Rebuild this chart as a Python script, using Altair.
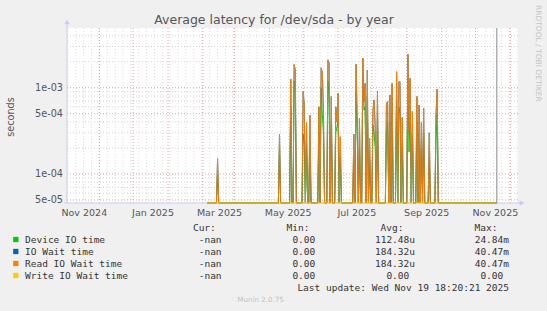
import altair as alt
import pandas as pd

# ---------------- data ----------------
spike_dates = [
    "2025-02-14", "2025-04-10", "2025-04-20", "2025-04-23", "2025-04-24",
    "2025-05-01", "2025-05-02", "2025-05-04", "2025-05-07", "2025-05-15",
    "2025-05-17", "2025-05-18", "2025-05-19", "2025-05-23", "2025-05-24",
    "2025-05-26", "2025-05-30", "2025-05-31", "2025-06-01", "2025-06-03",
    "2025-06-15", "2025-06-17", "2025-06-18", "2025-06-20", "2025-06-23",
    "2025-06-24", "2025-06-25", "2025-06-27", "2025-06-29", "2025-07-02",
    "2025-07-03", "2025-07-04", "2025-07-06", "2025-07-14", "2025-07-15",
    "2025-07-17", "2025-07-19", "2025-07-23", "2025-07-25", "2025-07-26",
    "2025-07-28", "2025-08-02", "2025-08-03", "2025-08-04", "2025-08-06",
    "2025-08-10", "2025-08-12", "2025-08-14", "2025-08-16", "2025-08-21",
    "2025-08-27", "2025-08-28",
]
read_io_wait = [
    1.5e-4, 2.9e-4, 1.26e-3, 1.85e-3, 1.6e-3,
    9.0e-4, 6.3e-4, 4.0e-4, 4.8e-4, 6.0e-4,
    1.7e-3, 1.5e-3, 5.8e-4, 2.1e-3, 1.95e-3,
    7.9e-4, 6.0e-4, 4.0e-4, 8.6e-4, 2.7e-4,
    2.9e-4, 1.87e-3, 4.0e-4, 4.4e-4, 2.2e-3,
    6.9e-4, 1.12e-3, 1.6e-3, 2.6e-4, 5.5e-4,
    7.2e-4, 3.4e-4, 9.0e-4, 6.6e-4, 6.9e-4,
    8.2e-4, 1.12e-3, 1.53e-3, 1.17e-3, 1.17e-3,
    4.5e-4, 2.45e-3, 3.1e-4, 1.29e-3, 5.3e-4,
    7.9e-4, 6.3e-4, 4.0e-4, 5.8e-4, 3.0e-4,
    5.0e-4, 9.6e-4,
]
io_wait = [
    1.5e-4, 2.9e-4, 1.26e-3, 1.85e-3, 1.6e-3,
    9.0e-4, 6.3e-4, 4.0e-4, 4.8e-4, 6.0e-4,
    1.7e-3, 1.5e-3, 5.8e-4, 2.1e-3, 1.95e-3,
    7.9e-4, 6.0e-4, 4.0e-4, 8.6e-4, 2.7e-4,
    2.9e-4, 1.87e-3, 4.0e-4, 4.4e-4, 2.2e-3,
    6.9e-4, 1.12e-3, 1.6e-3, 2.6e-4, 5.5e-4,
    7.2e-4, 3.4e-4, 9.0e-4, 6.6e-4, 6.9e-4,
    8.2e-4, 1.12e-3, 1.53e-3, 1.17e-3, 1.17e-3,
    4.5e-4, 2.45e-3, 3.1e-4, 1.29e-3, 5.3e-4,
    7.9e-4, 6.3e-4, 4.0e-4, 5.8e-4, 3.0e-4,
    5.0e-4, 9.6e-4,
]
device_io = [
    1.0e-4, 2.0e-4, 6.0e-4, 1.2e-3, 9.0e-4,
    2.9e-4, 2.2e-4, 2.0e-4, 2.5e-4, 3.0e-4,
    1.0e-3, 5.0e-4, 3.0e-4, 1.2e-3, 8.0e-4,
    4.0e-4, 3.0e-4, 3.5e-4, 4.0e-4, 1.5e-4,
    1.5e-4, 9.0e-4, 2.9e-4, 2.0e-4, 1.3e-3,
    5.5e-4, 6.0e-4, 8.0e-4, 1.5e-4, 3.7e-4,
    3.0e-4, 2.0e-4, 4.0e-4, 3.0e-4, 3.9e-4,
    4.0e-4, 5.0e-4, 7.0e-4, 6.0e-4, 5.0e-4,
    2.0e-4, 1.2e-3, 1.8e-4, 6.0e-4, 3.0e-4,
    4.0e-4, 3.0e-4, 2.0e-4, 3.0e-4, 1.5e-4,
    2.5e-4, 5.0e-4,
]
write_io_wait = [0.0] * len(spike_dates)
series_start = "2025-02-05"
series_end = "2025-10-20"
outlier_dates = ["2025-10-20"]

label_dates = ["2024-11-01", "2025-01-01", "2025-03-01", "2025-05-01",
               "2025-07-01", "2025-09-01", "2025-11-01"]
label_texts = ["Nov 2024", "Jan 2025", "Mar 2025", "May 2025",
               "Jul 2025", "Sep 2025", "Nov 2025"]
ytick_values = [1e-3, 5e-4, 1e-4, 5e-5]
ytick_texts = ["1e-03", "5e-04", "1e-04", "5e-05"]

legend_names = ["Device IO time", "IO Wait time", "Read IO Wait time", "Write IO Wait time"]
legend_colors = ["#00CC00", "#0066B3", "#FF8000", "#FFCC00"]
cur_vals = ["-nan", "-nan", "-nan", "-nan"]
min_vals = ["0.00", "0.00", "0.00", "0.00"]
avg_vals = ["112.48u", "184.32u", "184.32u", "0.00"]
max_vals = ["24.84m", "40.47m", "40.47m", "0.00"]
col_headers = ["Cur:", "Min:", "Avg:", "Max:"]
last_update = "Last update: Wed Nov 19 18:20:21 2025"

# ---------------- layout ----------------
OX, OY = 67, 28
W, H = 451, 175
FLOOR = 1e-9
AXIS_COL = "#C8CCF4"

x_scale = alt.Scale(type="utc", domain=[
    alt.DateTime(year=2024, month=10, date=3, hours=7, utc=True),
    alt.DateTime(year=2025, month=11, date=7, hours=19, utc=True)])
y_scale = alt.Scale(type="log", domain=[4.61e-5, 4.92e-3], clamp=True)

days = pd.date_range(series_start, series_end, freq="D")


def daily(values):
    lookup = dict(zip(spike_dates, values))
    vals = [lookup.get(d.strftime("%Y-%m-%d"), 0.0) for d in days]
    return pd.DataFrame({"date": [d.strftime("%Y-%m-%d") for d in days],
                         "v": [v if v > 0 else FLOOR for v in vals]})


def line(values, color, width=0.9):
    return alt.Chart(daily(values)).mark_line(
        color=color, strokeWidth=width, interpolate="linear").encode(
        x=alt.X("date:T", scale=x_scale, axis=None),
        y=alt.Y("v:Q", scale=y_scale, axis=None))


# grid
minor_y = [m * 10.0 ** e for e in (-5, -4, -3) for m in (2, 3, 4, 6, 7, 8, 9)
           if 4.61e-5 < m * 10.0 ** e < 4.92e-3]
major_y = [5e-5, 1e-4, 5e-4, 1e-3]
week_dates = [d.strftime("%Y-%m-%d") for d in pd.date_range("2024-10-04", "2025-11-07", freq="7D")]
month_dates = [d.strftime("%Y-%m-%d") for d in pd.date_range("2024-11-01", "2025-11-01", freq="MS")]

grid_minor_h = alt.Chart(pd.DataFrame({"y": minor_y})).mark_rule(
    color="#D2D2D2", strokeWidth=1, strokeDash=[1, 2]).encode(y=alt.Y("y:Q", scale=y_scale, axis=None))
grid_minor_v = alt.Chart(pd.DataFrame({"d": week_dates})).mark_rule(
    color="#DDDDDD", strokeWidth=1, strokeDash=[1, 2]).encode(x=alt.X("d:T", scale=x_scale, axis=None))
grid_major_h = alt.Chart(pd.DataFrame({"y": major_y})).mark_rule(
    color="#E8A0A0", strokeWidth=1, strokeDash=[1, 2]).encode(y=alt.Y("y:Q", scale=y_scale, axis=None))
grid_major_v = alt.Chart(pd.DataFrame({"d": month_dates})).mark_rule(
    color="#E8A0A0", strokeWidth=1, strokeDash=[1, 2]).encode(x=alt.X("d:T", scale=x_scale, axis=None))

one = pd.DataFrame({"a": [0]})
axis_left = alt.Chart(one).mark_rule(color=AXIS_COL, strokeWidth=1).encode(
    x=alt.value(0), y=alt.value(-4), y2=alt.value(H))
axis_bottom = alt.Chart(one).mark_rule(color=AXIS_COL, strokeWidth=1).encode(
    x=alt.value(-3), x2=alt.value(W + 2), y=alt.value(H))
arrow_up = alt.Chart(one).mark_point(shape="triangle-up", filled=True, color=AXIS_COL,
                                     size=30, opacity=1).encode(x=alt.value(0), y=alt.value(-6))
arrow_right = alt.Chart(one).mark_point(shape="triangle-right", filled=True, color=AXIS_COL,
                                        size=30, opacity=1).encode(x=alt.value(W + 4), y=alt.value(H))

outlier = alt.Chart(pd.DataFrame({"d": outlier_dates})).mark_rule(
    color="#8A8A8A", strokeWidth=1).encode(x=alt.X("d:T", scale=x_scale, axis=None))

ylabels = alt.Chart(pd.DataFrame({"v": ytick_values, "t": ytick_texts})).mark_text(
    align="right", baseline="middle", font="DejaVu Sans", fontSize=9.7, color="#555555").encode(
    x=alt.value(-4), y=alt.Y("v:Q", scale=y_scale, axis=None), text="t:N")
xlabels = alt.Chart(pd.DataFrame({"d": label_dates, "t": label_texts})).mark_text(
    align="center", baseline="middle", font="DejaVu Sans", fontSize=9.5, color="#555555", dx=-15).encode(
    x=alt.X("d:T", scale=x_scale, axis=None), y=alt.value(H + 9.5), text="t:N")

# texts placed in pixels
texts = [
    dict(px=274 - OX, py=24 - OY, t="Average latency for /dev/sda - by year", size=12.5,
         col="#555555", align="center", base="alphabetic", angle=0, font="DejaVu Sans"),
    dict(px=11 - OX, py=117 - OY, t="seconds", size=9.7, col="#555555", align="center",
         base="middle", angle=270, font="DejaVu Sans"),
    dict(px=538 - OX, py=5 - OY, t="RRDTOOL / TOBI OETIKER", size=7.5, col="#C4C4C4",
         align="left", base="middle", angle=90, font="DejaVu Sans"),
    dict(px=260.5 - OX, py=300 - OY, t="Munin 2.0.75", size=7.1, col="#C2C2C2",
         align="center", base="middle", angle=0, font="DejaVu Sans"),
    dict(px=509 - OX, py=288 - OY, t=last_update, size=9.5, col="#333333",
         align="right", base="middle", angle=0, font="DejaVu Sans Mono"),
]
unit_right = [227.3, 321, 415, 509]
for j, h in enumerate(col_headers):
    texts.append(dict(px=unit_right[j] - 11.5 - OX, py=227.5 - OY, t=h, size=9.5, col="#333333",
                      align="right", base="middle", angle=0, font="DejaVu Sans Mono"))
for i, name in enumerate(legend_names):
    py = 239.5 + 12 * i - OY
    texts.append(dict(px=25 - OX, py=py, t=name, size=9.5, col="#333333", align="left",
                      base="middle", angle=0, font="DejaVu Sans Mono"))
    for j, col in enumerate([cur_vals, min_vals, avg_vals, max_vals]):
        t = col[i]
        shift = 0 if t[-1] in "um" else 5.72
        texts.append(dict(px=unit_right[j] - shift - OX, py=py, t=t, size=9.5, col="#333333",
                          align="right", base="middle", angle=0, font="DejaVu Sans Mono"))

text_layers = []
for tx in texts:
    text_layers.append(alt.Chart(pd.DataFrame({"px": [tx["px"]], "py": [tx["py"]], "t": [tx["t"]]}))
                       .mark_text(align=tx["align"], baseline=tx["base"], angle=tx["angle"],
                                  font=tx["font"], fontSize=tx["size"], color=tx["col"])
                       .encode(x=alt.X("px:Q", scale=None), y=alt.Y("py:Q", scale=None), text="t:N"))

swatches = alt.Chart(pd.DataFrame({
    "px": [15.8 - OX] * 4,
    "py": [239.5 + 12 * i - OY for i in range(4)],
    "c": legend_colors})).mark_square(size=28, opacity=1, filled=True).encode(
    x=alt.X("px:Q", scale=None), y=alt.Y("py:Q", scale=None),
    color=alt.Color("c:N", scale=None))

chart = alt.layer(
    grid_minor_h, grid_minor_v, grid_major_h, grid_major_v,
    axis_left, axis_bottom, arrow_up, arrow_right,
    line(device_io, "#00CC00", 1.0),
    line(io_wait, "#0066B3"),
    line(read_io_wait, "#FF8000"),
    line(write_io_wait, "#FFCC00", 1.0),
    outlier, ylabels, xlabels, swatches, *text_layers,
).properties(
    width=W, height=H,
    padding={"left": OX, "top": OY, "right": 547 - OX - W, "bottom": 311 - OY - H},
    autosize=alt.AutoSizeParams(type="none"),
    background="#F0F0F0",
).configure_view(fill="white", stroke=None)

chart.save("out.html", embed_options={"renderer": "svg", "actions": False})
